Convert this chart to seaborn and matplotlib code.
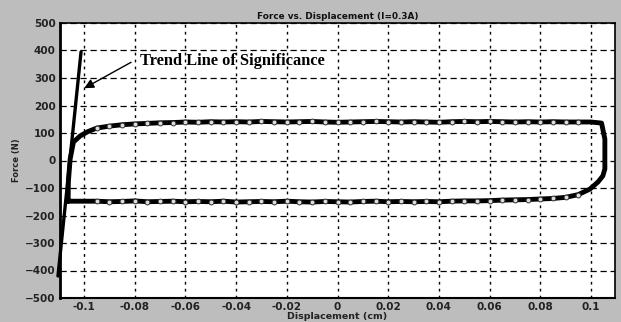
import matplotlib
matplotlib.use("Agg")
import matplotlib.pyplot as plt
import seaborn as sns
import pandas as pd

# ---- data ----
disp_grid = [-0.095, -0.09, -0.085, -0.08, -0.075, -0.07, -0.065, -0.06, -0.055, -0.05,
             -0.045, -0.04, -0.035, -0.03, -0.025, -0.02, -0.015, -0.01, -0.005, 0.0,
             0.005, 0.01, 0.015, 0.02, 0.025, 0.03, 0.035, 0.04, 0.045, 0.05,
             0.055, 0.06, 0.065, 0.07, 0.075, 0.08, 0.085, 0.09, 0.095]
upper_force = [118, 125, 130, 133, 135, 137, 138, 140, 139, 141,
               140, 141, 140, 142, 141, 140, 141, 142, 140, 139,
               140, 141, 142, 141, 140, 141, 140, 139, 141, 142,
               141, 142, 141, 140, 141, 140, 141, 140, 140]
lower_force = [-148, -150, -149, -147, -150, -149, -148, -150, -149, -150,
               -148, -151, -150, -149, -150, -148, -150, -151, -149, -150,
               -151, -149, -148, -150, -149, -150, -149, -150, -148, -147,
               -147, -146, -144, -143, -142, -140, -138, -134, -124]
left_disp = [-0.1063, -0.1062, -0.1055, -0.1042, -0.1016, -0.0985]
left_force = [-148, -78, 5, 67, 89, 105]
right_disp = [0.1000, 0.1042, 0.1055, 0.1055, 0.1047, 0.1028, 0.0996]
right_force = [140, 136, 78, -31, -56, -78, -104]
trend_disp = [-0.1103, -0.1012]
trend_force = [-420, 395]

x_ticks = [-0.1, -0.08, -0.06, -0.04, -0.02, 0, 0.02, 0.04, 0.06, 0.08, 0.1]
x_tick_labels = ["-0.1", "-0.08", "-0.06", "-0.04", "-0.02", "0", "0.02", "0.04", "0.06", "0.08", "0.1"]
y_ticks = [500, 400, 300, 200, 100, 0, -100, -200, -300, -400, -500]

# ---- build the loop path ----
loop_x = left_disp + disp_grid + right_disp + disp_grid[::-1] + [left_disp[0]]
loop_y = left_force + upper_force + right_force + lower_force[::-1] + [left_force[0]]
loop = pd.DataFrame({"disp": loop_x, "force": loop_y, "order": range(len(loop_x))})
marks = pd.DataFrame({"disp": disp_grid + disp_grid, "force": upper_force + lower_force})

sns.set_style("white")
plt.rcParams["font.family"] = ["DejaVu Sans"]

fig = plt.figure(figsize=(6.21, 3.22), dpi=100)
fig.patch.set_facecolor("#bdbdbd")
ax = fig.add_axes([60 / 621, 1 - 298 / 322, 555 / 621, 275 / 322])
ax.set_facecolor("white")

sns.lineplot(data=loop, x="disp", y="force", sort=False, estimator=None,
             color="black", linewidth=3.5, ax=ax, zorder=3)
sns.scatterplot(data=marks, x="disp", y="force", marker="o", s=12,
                facecolor="#dddddd", edgecolor="#333333", linewidth=0.7, ax=ax, zorder=4)
ax.plot(trend_disp, trend_force, color="black", linewidth=2.4, clip_on=False, zorder=5)

ax.set_xlim(-0.1095, 0.1095)
ax.set_ylim(-500, 500)
ax.set_xticks(x_ticks)
ax.set_xticklabels(x_tick_labels)
ax.set_yticks(y_ticks)
ax.tick_params(length=0, labelsize=7.5, labelcolor="#222222", pad=3)
for lab in ax.get_xticklabels() + ax.get_yticklabels():
    lab.set_fontweight("bold")

ax.xaxis.grid(True, color="black", linestyle=(0, (2, 3)), linewidth=1.0)
ax.yaxis.grid(True, color="black", linestyle=(0, (5, 3)), linewidth=0.9)
ax.set_axisbelow(True)

for side in ["left", "bottom", "right", "top"]:
    ax.spines[side].set_visible(True)
    ax.spines[side].set_color("black")
ax.spines["left"].set_linewidth(2.0)
ax.spines["bottom"].set_linewidth(1.5)
ax.spines["right"].set_linewidth(1.2)
ax.spines["top"].set_linewidth(1.2)

ax.set_xlabel("Displacement (cm)", fontsize=6.8, fontweight="bold", color="#222222", labelpad=0)
ax.set_ylabel("Force (N)", fontsize=6, fontweight="bold", color="#222222", labelpad=3)
ax.set_title("Force vs. Displacement (I=0.3A)", fontsize=6.4, fontweight="bold", color="#111111", pad=3)

ax.annotate("", xy=(-0.1009, 258), xytext=(-0.0805, 362),
            arrowprops=dict(arrowstyle="-|>", color="black", lw=1.0, mutation_scale=14))
ax.text(-0.0779, 362, "Trend Line of Significance", fontsize=11.8, fontweight="bold",
        family=["Liberation Serif", "DejaVu Serif"], va="center", ha="left", color="black")

fig.savefig("out.png", dpi=100, facecolor=fig.get_facecolor())
